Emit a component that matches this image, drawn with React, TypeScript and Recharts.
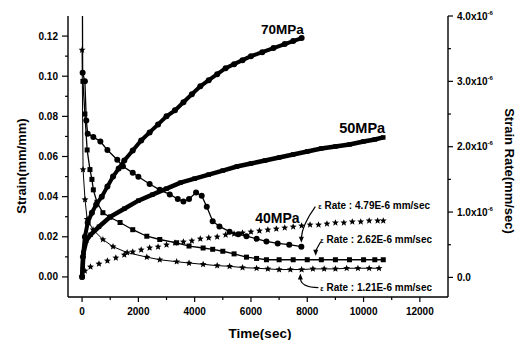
import React from 'react';
import { LineChart, Line, XAxis, YAxis, ReferenceDot, Customized } from 'recharts';

const FONT = '"Liberation Sans", Arial, Helvetica, sans-serif';

// 70MPa strain (left axis)
const time70Strain = [0, 30, 100, 200, 350, 500, 700, 900, 1100, 1300, 1500, 1800, 2100, 2400, 2700, 3000, 3300, 3600, 3900, 4200, 4500, 4800, 5100, 5400, 5700, 6000, 6400, 6800, 7200, 7500, 7800];
const strain70 = [0, 0.01, 0.02, 0.027, 0.032, 0.036, 0.04, 0.045, 0.05, 0.054, 0.058, 0.063, 0.068, 0.072, 0.076, 0.08, 0.083, 0.087, 0.091, 0.095, 0.098, 0.101, 0.104, 0.106, 0.108, 0.11, 0.112, 0.114, 0.116, 0.1175, 0.119];

// 50MPa strain (left axis)
const time50Strain = [0, 50, 150, 300, 600, 1000, 1500, 2000, 2500, 3000, 3500, 4000, 4500, 5000, 5500, 6000, 6500, 7000, 7500, 8000, 8500, 9000, 9500, 10000, 10400, 10700];
const strain50 = [0, 0.012, 0.018, 0.021, 0.025, 0.03, 0.034, 0.038, 0.041, 0.044, 0.047, 0.049, 0.051, 0.053, 0.055, 0.0565, 0.058, 0.0595, 0.061, 0.0625, 0.064, 0.065, 0.066, 0.0675, 0.0685, 0.0695];

// 40MPa strain (left axis)
const time40Strain = [0, 100, 300, 600, 900, 1200, 1500, 1800, 2100, 2400, 2700, 3000, 3300, 3600, 3900, 4200, 4500, 4800, 5100, 5400, 5700, 6000, 6300, 6600, 6900, 7200, 7500, 7800, 8100, 8400, 8700, 9000, 9300, 9600, 9900, 10200, 10500, 10700];
const strain40 = [0, 0.003, 0.005, 0.0065, 0.008, 0.0095, 0.011, 0.0125, 0.0135, 0.0145, 0.015, 0.016, 0.017, 0.0175, 0.018, 0.019, 0.0195, 0.02, 0.021, 0.0215, 0.022, 0.0225, 0.023, 0.0235, 0.024, 0.0245, 0.025, 0.0255, 0.026, 0.026, 0.0265, 0.027, 0.027, 0.0275, 0.0275, 0.028, 0.028, 0.028];

// strain rates (right axis, x1e-6 mm/sec)
const time70Rate = [0, 20, 100, 150, 200, 400, 650, 900, 1250, 1450, 1800, 2000, 2400, 2760, 3115, 3400, 3600, 3800, 4050, 4250, 4430, 4640, 4880, 5240, 5550, 5840, 6200, 6550, 6950, 7360, 7790];
const rate70 = [6, 3.13, 3.0, 2.4, 2.2, 2.15, 2.08, 1.95, 1.8, 1.7, 1.6, 1.54, 1.43, 1.34, 1.27, 1.2, 1.16, 1.2, 1.3, 1.25, 1.08, 0.86, 0.78, 0.7, 0.66, 0.63, 0.59, 0.55, 0.52, 0.5, 0.47];

const time50Rate = [30, 100, 180, 280, 350, 400, 530, 740, 990, 1350, 1800, 2300, 2760, 3360, 3800, 4300, 4640, 5000, 5400, 5840, 6200, 6550, 7000, 7500, 8000, 8500, 9000, 9500, 10000, 10400, 10700];
const rate50 = [3.0, 2.5, 1.95, 1.65, 1.5, 1.34, 1.15, 0.99, 0.92, 0.84, 0.73, 0.63, 0.58, 0.53, 0.48, 0.45, 0.43, 0.4, 0.36, 0.31, 0.29, 0.27, 0.27, 0.27, 0.27, 0.27, 0.27, 0.27, 0.27, 0.27, 0.27];

const time40Rate = [0, 35, 105, 180, 390, 740, 1100, 1600, 2300, 2760, 3360, 3800, 4300, 4800, 5240, 5700, 6200, 6600, 7000, 7400, 7800, 8200, 8600, 9000, 9400, 9800, 10200, 10550];
const rate40 = [3.48, 1.65, 1.19, 0.89, 0.73, 0.58, 0.47, 0.38, 0.31, 0.27, 0.24, 0.22, 0.2, 0.18, 0.17, 0.15, 0.14, 0.13, 0.12, 0.12, 0.12, 0.13, 0.13, 0.13, 0.14, 0.14, 0.14, 0.14];

const xMajor = [0, 2000, 4000, 6000, 8000, 10000, 12000];
const xMinor = [1000, 3000, 5000, 7000, 9000, 11000];
const leftMajor = [0, 0.02, 0.04, 0.06, 0.08, 0.1, 0.12];
const leftMinor = [0.01, 0.03, 0.05, 0.07, 0.09, 0.11];
const rightMajor = [0, 1, 2, 3, 4];
const rightMinor = [0.5, 1.5, 2.5, 3.5];

const zip = (ts: number[], vs: number[]) => ts.map((t, i) => ({ t, v: vs[i] }));

const starPath = (cx: number, cy: number, R: number) => {
  const r = R * 0.45;
  let d = '';
  for (let i = 0; i < 10; i++) {
    const rad = i % 2 === 0 ? R : r;
    const a = -Math.PI / 2 + (i * Math.PI) / 5;
    d += (i === 0 ? 'M' : 'L') + (cx + rad * Math.cos(a)).toFixed(2) + ',' + (cy + rad * Math.sin(a)).toFixed(2);
  }
  return d + 'Z';
};

const circleDot = (r: number) => (p: any) => <circle key={p.index} cx={p.cx} cy={p.cy} r={r} fill="#000" />;
const squareDot = (s: number) => (p: any) => <rect key={p.index} x={p.cx - s / 2} y={p.cy - s / 2} width={s} height={s} fill="#000" />;
const starDot = (R: number) => (p: any) => <path key={p.index} d={starPath(p.cx, p.cy, R)} fill="#000" />;

const tickText = { fontFamily: FONT, fontSize: 10, fontWeight: 700, fill: '#000' };

const XTick = (p: any) => {
  const v = p.payload.value;
  const major = xMajor.includes(v);
  return (
    <g>
      <line x1={p.x} y1={p.y} x2={p.x} y2={p.y + (major ? 5 : 3)} stroke="#000" strokeWidth={1.2} />
      {major && <text x={p.x} y={p.y + 18} textAnchor="middle" {...tickText}>{v}</text>}
    </g>
  );
};

const LeftTick = (p: any) => {
  const v = p.payload.value;
  const major = leftMajor.some((m) => Math.abs(m - v) < 1e-9);
  return (
    <g>
      <line x1={p.x} y1={p.y} x2={p.x - (major ? 6 : 3)} y2={p.y} stroke="#000" strokeWidth={1.2} />
      {major && <text x={p.x - 10} y={p.y + 3.5} textAnchor="end" {...tickText}>{v.toFixed(2)}</text>}
    </g>
  );
};

const RightTick = (p: any) => {
  const v = p.payload.value;
  const major = rightMajor.includes(v);
  return (
    <g>
      <line x1={p.x} y1={p.y} x2={p.x + (major ? 5 : 3)} y2={p.y} stroke="#000" strokeWidth={1.2} />
      {major && (
        <text x={p.x + 9} y={p.y + 3.5} textAnchor="start" {...tickText}>
          {v === 0 ? '0.0' : (
            <>
              {v.toFixed(1) + 'x10'}
              <tspan dy={-5} fontSize={6}>-6</tspan>
            </>
          )}
        </text>
      )}
    </g>
  );
};

const labelStyle = { fontFamily: FONT, fontWeight: 700, fill: '#000' };

const TextAt = (text: string, size: number) => (p: any) => (
  <text x={p.cx} y={p.cy} textAnchor="middle" fontSize={size} {...labelStyle}>{text}</text>
);

const RateText = (value: string) => (p: any) => (
  <text x={p.cx} y={p.cy} fontSize={10} {...labelStyle}>
    <tspan fontSize={7}>ε</tspan>
    {' Rate : ' + value + ' mm/sec'}
  </text>
);

const arrowDown = (dx: number, dy: number, c: number) => (p: any) => {
  const x = p.cx;
  const y = p.cy - 4;
  return (
    <g>
      <path d={`M${x},${y - 5} Q${x + c},${y + dy / 2} ${x + dx},${y + dy}`} fill="none" stroke="#000" strokeWidth={1.2} />
      <path d={`M${x},${y} L${x - 2.5},${y - 6} L${x + 2.5},${y - 6}Z`} fill="#000" />
    </g>
  );
};

const arrowUp = (dx: number, dy: number) => (p: any) => {
  const x = p.cx;
  const y = p.cy + 4;
  return (
    <g>
      <path d={`M${x},${y + 5} Q${x + 1},${y + dy} ${x + dx},${y + dy}`} fill="none" stroke="#000" strokeWidth={1.2} />
      <path d={`M${x},${y} L${x - 2.5},${y + 6} L${x + 2.5},${y + 6}Z`} fill="#000" />
    </g>
  );
};

const Titles = () => (
  <g fontFamily={FONT} fontWeight={700} fill="#000">
    <text transform="translate(18,158) rotate(-90)" textAnchor="middle" fontSize={13}>Strain(mm/mm)</text>
    <text transform="translate(497,163) rotate(90)" textAnchor="middle" fontSize={13}>Strain Rate(mm/sec)</text>
    <text x={252} y={330} textAnchor="middle" fontSize={13.5}>Time(sec)</text>
  </g>
);

export default function App() {
  const axisLine = { stroke: '#000', strokeWidth: 1.4 };
  return (
    <LineChart width={520} height={332} margin={{ top: 8, right: 0, bottom: 0, left: 0 }}>
      <XAxis
        dataKey="t"
        type="number"
        domain={[-500, 13000]}
        ticks={[...xMajor, ...xMinor].sort((a, b) => a - b)}
        interval={0}
        height={43}
        tickSize={0}
        tickMargin={0}
        tickLine={false}
        axisLine={axisLine}
        tick={(p: any) => <XTick {...p} />}
      />
      <XAxis xAxisId="top" orientation="top" type="number" domain={[-500, 13000]} height={0} tick={false} tickLine={false} axisLine={axisLine} />
      <YAxis
        yAxisId="left"
        type="number"
        domain={[-0.01, 0.13]}
        allowDataOverflow
        ticks={[...leftMajor, ...leftMinor].sort((a, b) => a - b)}
        interval={0}
        width={60}
        tickSize={0}
        tickMargin={0}
        tickLine={false}
        axisLine={axisLine}
        tick={(p: any) => <LeftTick {...p} />}
      />
      <YAxis
        yAxisId="right"
        orientation="right"
        type="number"
        domain={[-0.3, 4]}
        allowDataOverflow
        ticks={[...rightMajor, ...rightMinor].sort((a, b) => a - b)}
        interval={0}
        width={80}
        tickSize={0}
        tickMargin={0}
        tickLine={false}
        axisLine={axisLine}
        tick={(p: any) => <RightTick {...p} />}
      />

      <Line yAxisId="left" data={zip(time70Strain, strain70)} dataKey="v" stroke="#000" strokeWidth={4} dot={circleDot(3)} isAnimationActive={false} />
      <Line yAxisId="left" data={zip(time50Strain, strain50)} dataKey="v" stroke="#000" strokeWidth={4.5} dot={squareDot(4.5)} isAnimationActive={false} />
      <Line yAxisId="left" data={zip(time40Strain, strain40)} dataKey="v" stroke="none" dot={starDot(3.6)} isAnimationActive={false} />
      <Line yAxisId="right" data={zip(time70Rate, rate70)} dataKey="v" stroke="#000" strokeWidth={1.3} dot={circleDot(3)} isAnimationActive={false} />
      <Line yAxisId="right" data={zip(time50Rate, rate50)} dataKey="v" stroke="#000" strokeWidth={1.3} dot={squareDot(5)} isAnimationActive={false} />
      <Line yAxisId="right" data={zip(time40Rate, rate40)} dataKey="v" stroke="#000" strokeWidth={1} dot={starDot(3.6)} isAnimationActive={false} />

      <ReferenceDot yAxisId="left" x={7117} y={0.121} r={0} shape={TextAt('70MPa', 13.5)} />
      <ReferenceDot yAxisId="left" x={9952} y={0.0717} r={0} shape={TextAt('50MPa', 14.5)} />
      <ReferenceDot yAxisId="left" x={6940} y={0.0269} r={0} shape={TextAt('40MPa', 14)} />
      <ReferenceDot yAxisId="left" x={8393} y={0.0338} r={0} shape={RateText('4.79E-6')} />
      <ReferenceDot yAxisId="left" x={8464} y={0.0169} r={0} shape={RateText('2.62E-6')} />
      <ReferenceDot yAxisId="left" x={8464} y={-0.007} r={0} shape={RateText('1.21E-6')} />
      <ReferenceDot yAxisId="right" x={7790} y={0.47} r={0} shape={arrowDown(14, -36, 1)} />
      <ReferenceDot yAxisId="right" x={8300} y={0.27} r={0} shape={arrowDown(5, -14, 1)} />
      <ReferenceDot yAxisId="right" x={7755} y={0.12} r={0} shape={arrowUp(18, 14)} />

      <Customized component={Titles} />
    </LineChart>
  );
}
